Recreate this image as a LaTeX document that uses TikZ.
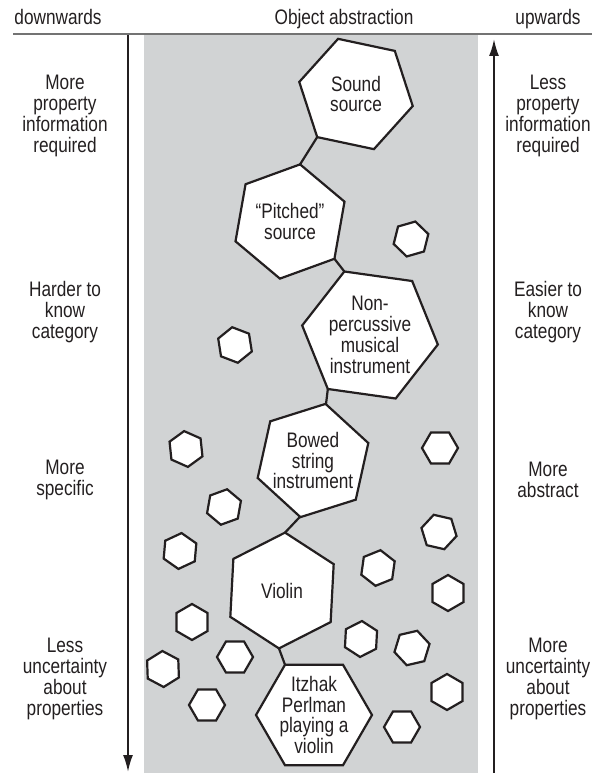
\documentclass[tikz,border=0pt]{standalone}
\usepackage{fontspec}
\setmainfont{Liberation Sans}[FakeStretch=0.82]
\usepackage{tikz}
\usetikzlibrary{shapes.geometric,arrows.meta}
\definecolor{panel}{HTML}{D1D3D4}
\definecolor{ink}{HTML}{231F20}

\tikzset{
  txt/.style={align=center, text=ink, font=\fontsize{21}{20.8}\selectfont},
  hexa/.style={regular polygon, regular polygon sides=6, draw=ink, fill=white,
    line width=2.2pt, inner sep=0pt, outer sep=0pt},
  bighex/.style={hexa, minimum size=116pt},
  smallhex/.style={hexa, minimum size=36pt},
  link/.style={draw=ink, line width=2.2pt},
  axis/.style={draw=ink, line width=2pt, -{Latex[length=17pt,width=10pt]}}
}

\begin{document}
\begin{tikzpicture}[x=1pt, y=-1pt]
    \useasboundingbox (0,0) rectangle (592,773);

    % Grey band behind the hexagons
    \fill[panel] (144,35.5) rectangle (478,773);

    % Headings and rule
    \node[txt, anchor=base] (hdown) at (58,25) {downwards};
    \node[txt, anchor=base] (hobj)  at (344,25) {Object abstraction};
    \node[txt, anchor=base] (hup)   at (548,25) {upwards};
    \draw[line width=2pt, black!55] (13,34.5) -- (592,34.5);

    % Direction arrows
    \draw[axis] (128,35.5) -- (128,772);
    \draw[axis] (494,773) -- (494,39);

    % Left column
    \node[txt] (l1) at (65,116) {More\\property\\information\\required};
    \node[txt] (l2) at (65,312) {Harder to\\know\\category};
    \node[txt] (l3) at (65,480) {More\\specific};
    \node[txt] (l4) at (65,679) {Less\\uncertainty\\about\\properties};

    % Right column
    \node[txt] (r1) at (548,116) {Less\\property\\information\\required};
    \node[txt] (r2) at (548,312) {Easier to\\know\\category};
    \node[txt] (r3) at (548,480) {More\\abstract};
    \node[txt] (r4) at (548,679) {More\\uncertainty\\about\\properties};

    % Scattered small hexagons (x/y/turn)
    \foreach \x/\y/\t [count=\i] in {411/239/44, 235/345/21, 186/449/24,
        440/448/0, 224/507/40, 439/532/13, 180/551/35, 378/568/38,
        448/593/30, 192/622/30, 361/639/33, 412/648/47, 235/657/0,
        163/669/28, 447/692/30, 207/705/0, 402/727/0}
      \node[smallhex, shape border rotate=-\t] (sh\i) at (\x,\y) {};

    % Chain of categories
    \node[bighex, shape border rotate=-12,
      label={[txt]center:Sound\\source}] (ss) at (356,94) {};
    \node[bighex, shape border rotate=-40,
      label={[txt]center:“Pitched”\\source}] (ps) at (290,221.5) {};
    \node[bighex, minimum size=137pt, shape border rotate=-8,
      label={[txt]center:Non-\\percussive\\musical\\instrument}] (np) at (370,335) {};
    \node[bighex, shape border rotate=-42.5,
      label={[txt]center:Bowed\\string\\instrument}] (bs) at (313,460.5) {};
    \node[bighex, shape border rotate=-33,
      label={[txt]center:Violin}] (vi) at (282,590.5) {};
    \node[bighex, shape border rotate=0,
      label={[txt]center:Itzhak\\Perlman\\playing a\\violin}] (ip) at (314,715) {};

    \draw[link] (ss.228)   -- (ps.80);
    \draw[link] (ps.-40)   -- (np.112);
    \draw[link] (np.232)   -- (bs.77.5);
    \draw[link] (bs.257.5) -- (vi.87);
    \draw[link] (vi.267)   -- (ip.120);

\end{tikzpicture}
\end{document}
